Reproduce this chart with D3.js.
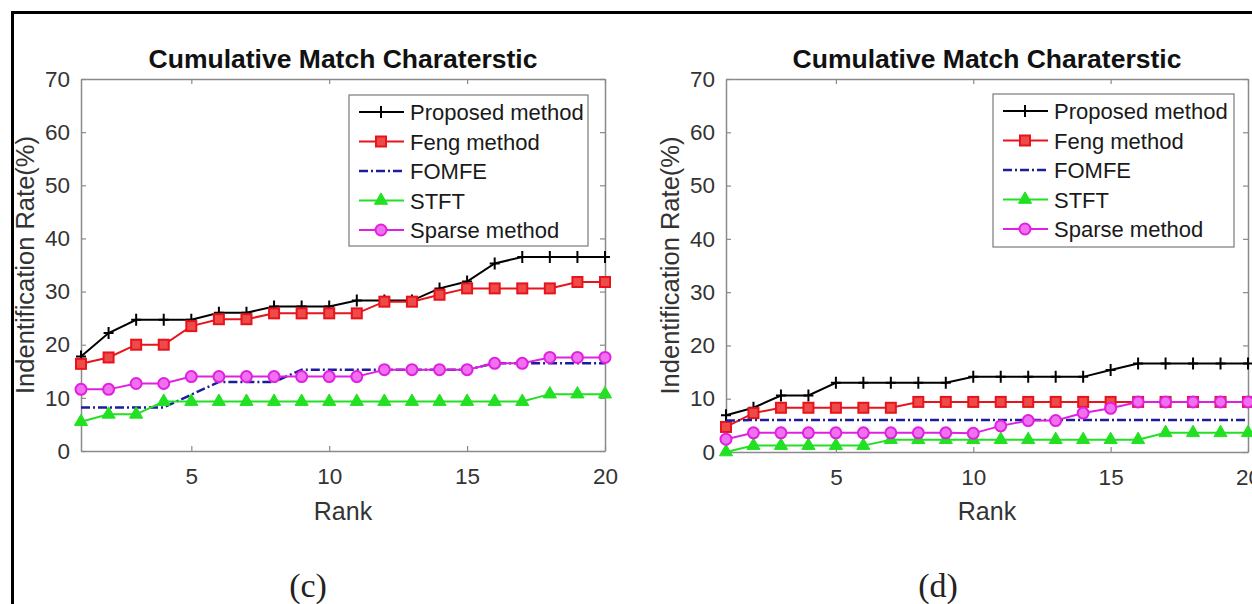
<!DOCTYPE html>
<html>
<head>
<meta charset="utf-8">
<script src="https://cdn.jsdelivr.net/npm/d3@7"></script>
<style>
  body { margin: 0; background: #fff; }
  svg { display: block; }
</style>
</head>
<body>
<svg id="chart" width="1252" height="604"></svg>
<script>

const ranks = [1, 2, 3, 4, 5, 6, 7, 8, 9, 10, 11, 12, 13, 14, 15, 16, 17, 18, 19, 20];
const xTicks = [5, 10, 15, 20];
const yTicks = [0, 10, 20, 30, 40, 50, 60, 70];

const methodNames = ["Proposed method", "Feng method", "FOMFE", "STFT", "Sparse method"];

// panel (c)
const cProposed = [17.8, 22.2, 24.7, 24.7, 24.7, 26.0, 26.0, 27.2, 27.2, 27.2, 28.3, 28.3, 28.3, 30.6, 31.9, 35.3, 36.5, 36.5, 36.5, 36.5];
const cFeng     = [16.4, 17.6, 20.0, 20.0, 23.5, 24.8, 24.8, 25.9, 25.9, 25.9, 25.9, 28.1, 28.1, 29.4, 30.6, 30.6, 30.6, 30.6, 31.8, 31.8];
const cFomfe    = [8.2, 8.2, 8.2, 8.2, 10.6, 13.0, 13.0, 13.0, 15.3, 15.3, 15.3, 15.3, 15.3, 15.3, 15.3, 16.5, 16.5, 16.5, 16.5, 16.5];
const cStft     = [5.5, 6.9, 6.9, 9.3, 9.3, 9.3, 9.3, 9.3, 9.3, 9.3, 9.3, 9.3, 9.3, 9.3, 9.3, 9.3, 9.3, 10.7, 10.7, 10.7];
const cSparse   = [11.6, 11.6, 12.7, 12.7, 14.0, 14.0, 14.0, 14.0, 14.0, 14.0, 14.0, 15.3, 15.3, 15.3, 15.3, 16.5, 16.5, 17.6, 17.6, 17.6];

// panel (d)
const dProposed = [6.9, 8.3, 10.6, 10.6, 13.0, 13.0, 13.0, 13.0, 13.0, 14.1, 14.1, 14.1, 14.1, 14.1, 15.4, 16.6, 16.6, 16.6, 16.6, 16.6];
const dFeng     = [4.7, 7.3, 8.3, 8.3, 8.3, 8.3, 8.3, 9.4, 9.4, 9.4, 9.4, 9.4, 9.4, 9.4, 9.4, 9.4, 9.4, 9.4, 9.4, 9.4];
const dFomfe    = [5.9, 6.0, 6.0, 6.0, 6.0, 6.0, 6.0, 6.0, 6.0, 6.0, 6.0, 6.0, 6.0, 6.0, 6.0, 6.0, 6.0, 6.0, 6.0, 6.0];
const dStft     = [0.0, 1.2, 1.2, 1.2, 1.2, 1.2, 2.3, 2.3, 2.3, 2.3, 2.3, 2.3, 2.3, 2.3, 2.3, 2.3, 3.6, 3.6, 3.6, 3.6];
const dSparse   = [2.4, 3.6, 3.6, 3.6, 3.6, 3.6, 3.6, 3.6, 3.6, 3.5, 4.9, 5.9, 5.9, 7.3, 8.2, 9.4, 9.4, 9.4, 9.4, 9.4];


const styles = [
  { color: "#000000", marker: "plus",     dash: null },
  { color: "#e8141c", marker: "square",   dash: null },
  { color: "#1c1c9c", marker: "none",     dash: "9,3,2,3" },
  { color: "#22e022", marker: "triangle", dash: null },
  { color: "#e020e0", marker: "circle",   dash: null }
];

const svg = d3.select("#chart");
const font = "'Liberation Sans', Arial, Helvetica, sans-serif";

// frame round the figure
svg.append("rect")
   .attr("x", 12.5).attr("y", 12.5)
   .attr("width", 1300).attr("height", 700)
   .attr("fill", "none").attr("stroke", "#000").attr("stroke-width", 3);

function drawMarker(g, kind, color, cx, cy) {
  if (kind === "plus") {
    g.append("path")
     .attr("d", `M${cx - 5},${cy}H${cx + 5}M${cx},${cy - 6}V${cy + 6}`)
     .attr("stroke", color).attr("stroke-width", 2);
  } else if (kind === "square") {
    g.append("rect")
     .attr("x", cx - 5).attr("y", cy - 5).attr("width", 10).attr("height", 10)
     .attr("fill", "#ef4a4a").attr("stroke", color).attr("stroke-width", 2);
  } else if (kind === "triangle") {
    g.append("path")
     .attr("d", d3.symbol(d3.symbolTriangle, 75)())
     .attr("transform", `translate(${cx},${cy})`)
     .attr("fill", color).attr("stroke", color).attr("stroke-width", 1);
  } else if (kind === "circle") {
    g.append("circle")
     .attr("cx", cx).attr("cy", cy).attr("r", 5.5)
     .attr("fill", "#f070f0").attr("stroke", color).attr("stroke-width", 2);
  }
}

function drawPanel(box, series, legendBox, caption) {

  let xScale = d3.scaleLinear().domain([1, 20]).range([box.left, box.right]);
  let yScale = d3.scaleLinear().domain([0, 70]).range([box.bottom, box.top]);

  let g = svg.append("g");

  // axes with inward ticks, MATLAB style box
  let xAxis = d3.axisBottom(xScale).tickValues(xTicks).tickSizeInner(-5).tickSizeOuter(0).tickPadding(17);
  let yAxis = d3.axisLeft(yScale).tickValues(yTicks).tickSizeInner(-5).tickSizeOuter(0).tickPadding(11);
  let xTop = d3.axisTop(xScale).tickValues(xTicks).tickSizeInner(-5).tickSizeOuter(0).tickFormat("");
  let yRight = d3.axisRight(yScale).tickValues(yTicks).tickSizeInner(-5).tickSizeOuter(0).tickFormat("");

  let axes = [
    g.append("g").attr("transform", `translate(0,${box.bottom})`).call(xAxis),
    g.append("g").attr("transform", `translate(${box.left},0)`).call(yAxis),
    g.append("g").attr("transform", `translate(0,${box.top})`).call(xTop),
    g.append("g").attr("transform", `translate(${box.right},0)`).call(yRight)
  ];
  axes.forEach(a => {
    a.select(".domain").attr("stroke", "#8a8a8a").attr("stroke-width", 1.5);
    a.selectAll(".tick line").attr("stroke", "#8a8a8a").attr("stroke-width", 1.2);
    a.selectAll("text").attr("font-family", font).attr("font-size", 22.5).attr("fill", "#333");
  });

  // title and labels
  g.append("text")
   .attr("x", (box.left + box.right) / 2).attr("y", 68)
   .attr("text-anchor", "middle")
   .attr("font-family", font).attr("font-weight", "bold").attr("font-size", 26.5)
   .attr("fill", "#111")
   .text("Cumulative Match Charaterstic");

  g.append("text")
   .attr("x", (box.left + box.right) / 2).attr("y", 520)
   .attr("text-anchor", "middle")
   .attr("font-family", font).attr("font-size", 25).attr("fill", "#333")
   .text("Rank");

  g.append("text")
   .attr("transform", `translate(${box.left - 47},${(box.top + box.bottom) / 2}) rotate(-90)`)
   .attr("text-anchor", "middle")
   .attr("font-family", font).attr("font-size", 25.5).attr("fill", "#333")
   .text("Indentification Rate(%)");

  // series
  let line = d3.line().x((d, i) => xScale(ranks[i])).y(d => yScale(d));

  series.forEach((values, k) => {
    let st = styles[k];
    let sg = g.append("g");
    sg.append("path")
      .attr("d", line(values))
      .attr("fill", "none")
      .attr("stroke", st.color)
      .attr("stroke-width", st.dash ? 2.5 : 2)
      .attr("stroke-dasharray", st.dash);
    values.forEach((v, i) => drawMarker(sg, st.marker, st.color, xScale(ranks[i]), yScale(v)));
  });

  // legend
  let lg = g.append("g");
  lg.append("rect")
    .attr("x", legendBox.x).attr("y", legendBox.y)
    .attr("width", legendBox.w).attr("height", legendBox.h)
    .attr("fill", "#fff").attr("stroke", "#7a7a7a").attr("stroke-width", 1.2);

  methodNames.forEach((name, k) => {
    let st = styles[k];
    let ly = legendBox.y + 17 + k * 29.5;
    let lx = legendBox.x + 10;
    lg.append("line")
      .attr("x1", lx).attr("x2", lx + 45).attr("y1", ly).attr("y2", ly)
      .attr("stroke", st.color).attr("stroke-width", st.dash ? 2.5 : 2)
      .attr("stroke-dasharray", st.dash);
    drawMarker(lg, st.marker, st.color, lx + 22, ly);
    lg.append("text")
      .attr("x", lx + 51).attr("y", ly + 8)
      .attr("font-family", font).attr("font-size", 22).attr("fill", "#1a1a1a")
      .text(name);
  });

  // sub caption
  g.append("text")
   .attr("x", caption.x).attr("y", 597)
   .attr("text-anchor", "middle")
   .attr("font-family", "'Liberation Serif', 'DejaVu Serif', serif")
   .attr("font-size", 34).attr("fill", "#222")
   .text(caption.text);
}

drawPanel({ left: 81, right: 605, top: 79, bottom: 451 },
          [cProposed, cFeng, cFomfe, cStft, cSparse],
          { x: 349, y: 95, w: 239, h: 151 },
          { x: 308, text: "(c)" });

drawPanel({ left: 726, right: 1248, top: 79, bottom: 452 },
          [dProposed, dFeng, dFomfe, dStft, dSparse],
          { x: 993, y: 94, w: 241, h: 153 },
          { x: 938, text: "(d)" });

</script>
</body>
</html>
